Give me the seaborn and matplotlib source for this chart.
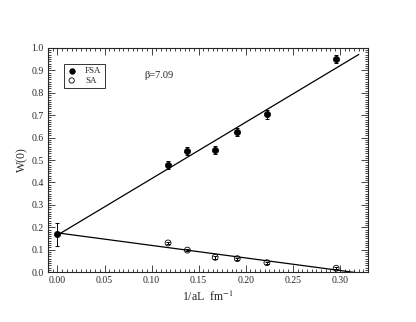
import numpy as np
import pandas as pd
import matplotlib
matplotlib.use('Agg')
import matplotlib.pyplot as plt
from matplotlib.ticker import MultipleLocator
import seaborn as sns

# values
inv_aL = [0.0, 0.1175, 0.138, 0.1675, 0.191, 0.2225, 0.296]
fsa_w = [0.168, 0.478, 0.540, 0.543, 0.627, 0.705, 0.951]
fsa_err = [0.05, 0.018, 0.018, 0.018, 0.018, 0.02, 0.018]
sa_x = [0.1175, 0.138, 0.1675, 0.191, 0.2225, 0.296]
sa_w = [0.130, 0.098, 0.066, 0.060, 0.042, 0.017]
sa_err = [0.006, 0.005, 0.006, 0.005, 0.005, 0.005]

# linear fits (endpoints)
fit_x = [0.0, 0.32]
fsa_fit = [0.165, 0.971]
sa_fit = [0.175, -0.004]

sns.set_style("ticks")
plt.rcParams['font.family'] = ['Liberation Serif', 'DejaVu Serif']
plt.rcParams['mathtext.fontset'] = 'stix'

fig = plt.figure(figsize=(4.16, 3.22), dpi=100)
ax = fig.add_axes([0.1154, 0.155, 0.7696, 0.696])

df_fsa = pd.DataFrame({'x': inv_aL, 'y': fsa_w})
df_sa = pd.DataFrame({'x': sa_x, 'y': sa_w})

# fit lines
sns.lineplot(x=fit_x, y=fsa_fit, ax=ax, color='black', lw=0.9)
sns.lineplot(x=fit_x, y=sa_fit, ax=ax, color='black', lw=0.9)

# error bars
ax.errorbar(inv_aL, fsa_w, yerr=fsa_err, fmt='none', ecolor='black',
            elinewidth=0.7, capsize=1.2, capthick=0.7)
ax.errorbar(sa_x, sa_w, yerr=sa_err, fmt='none', ecolor='black',
            elinewidth=0.7, capsize=1.2, capthick=0.7)

sns.scatterplot(data=df_fsa, x='x', y='y', ax=ax, marker='o', s=20,
                color='black', edgecolor='black', linewidth=0.5,
                label='FSA', zorder=5)
sns.scatterplot(data=df_sa, x='x', y='y', ax=ax, marker='o', s=18,
                facecolor='none', edgecolor='black', linewidth=0.6,
                label='SA', zorder=5)

ax.set_xlim(-0.01, 0.33)
ax.set_ylim(0.0, 1.0)
ax.xaxis.set_major_locator(MultipleLocator(0.05))
ax.xaxis.set_minor_locator(MultipleLocator(0.005))
ax.yaxis.set_major_locator(MultipleLocator(0.1))
ax.yaxis.set_minor_locator(MultipleLocator(0.01))
ax.tick_params(which='both', direction='in', top=True, right=True,
               labelsize=7, width=0.6, pad=3)
ax.tick_params(which='major', length=5)
ax.tick_params(which='minor', length=2.5)
ax.xaxis.set_major_formatter(matplotlib.ticker.FormatStrFormatter('%.2f'))
ax.yaxis.set_major_formatter(matplotlib.ticker.FormatStrFormatter('%.1f'))
for s in ax.spines.values():
    s.set_linewidth(0.8)

ax.set_xlabel('1/aL  fm$^{-1}$', fontsize=8.5, labelpad=3)
ax.set_ylabel('W(0)', fontsize=8.5, labelpad=2)

ax.text(0.30, 0.878, 'β=7.09', transform=ax.transAxes, fontsize=7.5,
        va='center', ha='left')

leg = ax.legend(loc='upper left', bbox_to_anchor=(0.05, 0.93), fontsize=6.5,
                frameon=True, fancybox=False, edgecolor='black',
                handletextpad=1.0, borderpad=0.35, labelspacing=0.15,
                handlelength=1.0, markerscale=0.9, borderaxespad=0)
leg.get_frame().set_linewidth(0.7)

fig.savefig('out.png', dpi=100)
